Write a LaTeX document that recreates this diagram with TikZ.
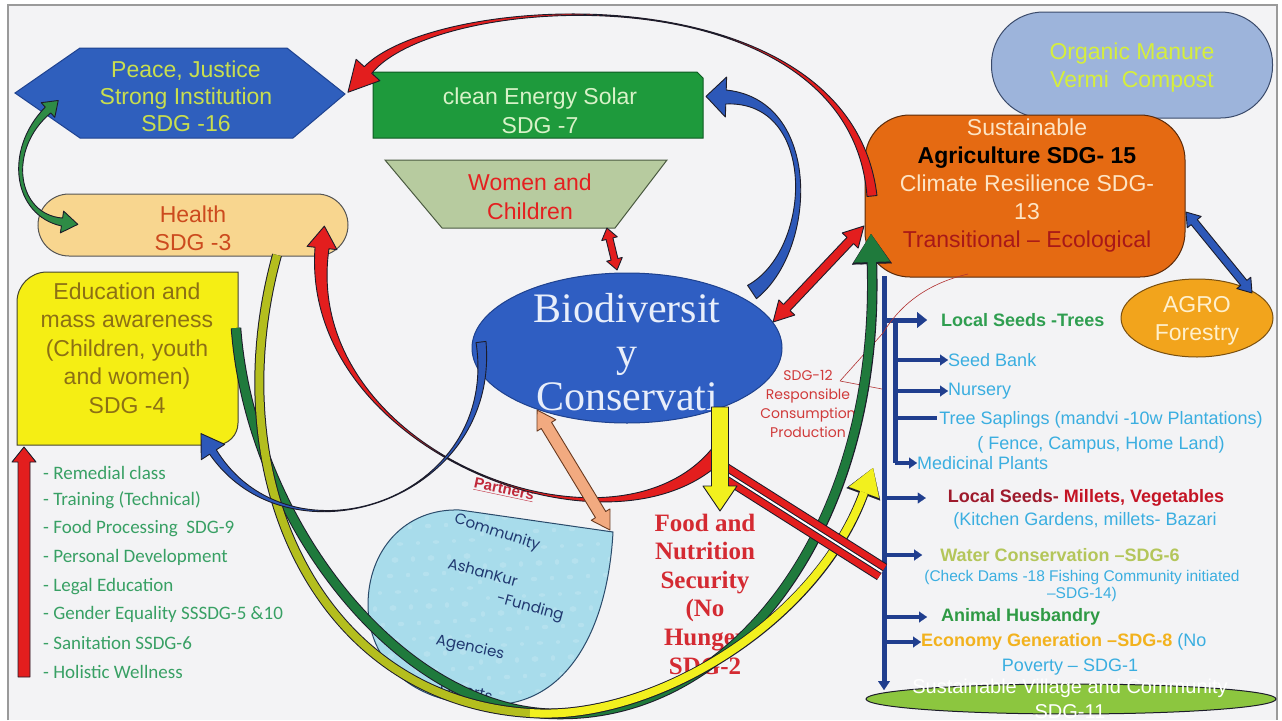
\documentclass[tikz,border=0pt]{standalone}
\usepackage{fontspec}
\setmainfont{Liberation Sans}
\newfontfamily\serifface{Liberation Serif}
\newfontfamily\calface{Carlito}
\newfontfamily\geoface{Poppins}
\usetikzlibrary{calc,shapes.geometric,arrows.meta}

\definecolor{bgc}{HTML}{F3F3F5}
\definecolor{framegray}{HTML}{9A9A9A}
\definecolor{outline}{HTML}{1C1C2A}
\definecolor{peaceblue}{HTML}{2F5FBD}
\definecolor{peaceedge}{HTML}{1E4290}
\definecolor{peacetext}{HTML}{C9DE4E}
\definecolor{energygreen}{HTML}{1E9A3C}
\definecolor{energyedge}{HTML}{0E5A22}
\definecolor{energytext}{HTML}{D8F2C8}
\definecolor{womenfill}{HTML}{B7CB9F}
\definecolor{womenedge}{HTML}{4A5A40}
\definecolor{womentext}{HTML}{E42020}
\definecolor{healthfill}{HTML}{F8D68F}
\definecolor{healthedge}{HTML}{555555}
\definecolor{healthtext}{HTML}{CC4A1E}
\definecolor{edufill}{HTML}{F5EE14}
\definecolor{eduedge}{HTML}{444430}
\definecolor{edutext}{HTML}{8C7014}
\definecolor{listgreen}{HTML}{38A064}
\definecolor{bioblue}{HTML}{2F5EC2}
\definecolor{bioedge}{HTML}{1E418E}
\definecolor{biotext}{HTML}{E8EEFA}
\definecolor{agrifill}{HTML}{E56A12}
\definecolor{agriedge}{HTML}{5A2A0A}
\definecolor{agricream}{HTML}{FDE4C4}
\definecolor{agrired}{HTML}{A81818}
\definecolor{organicfill}{HTML}{9DB4DB}
\definecolor{organicedge}{HTML}{3A4A6A}
\definecolor{organictext}{HTML}{D6EE3C}
\definecolor{agrofill}{HTML}{F2A41C}
\definecolor{agroedge}{HTML}{7A5010}
\definecolor{agrotext}{HTML}{FFF0CC}
\definecolor{villagefill}{HTML}{8CC63F}
\definecolor{dropfill}{HTML}{A8DCEB}
\definecolor{dropedge}{HTML}{2A4A6A}
\definecolor{droptext}{HTML}{203870}
\definecolor{foodred}{HTML}{D42A32}
\definecolor{sdgred}{HTML}{D03A3A}
\definecolor{partnerred}{HTML}{C0283A}
\definecolor{navy}{HTML}{203E8E}
\definecolor{skyblue}{HTML}{3AAEE0}
\definecolor{seedgreen}{HTML}{2F9E50}
\definecolor{milletred}{HTML}{9E1A2C}
\definecolor{milletredb}{HTML}{C41424}
\definecolor{waterolive}{HTML}{B4C65A}
\definecolor{husbandgreen}{HTML}{2E9A44}
\definecolor{ecoorange}{HTML}{F2B21E}
\definecolor{arrowred}{HTML}{E31E1E}
\definecolor{darkgreen}{HTML}{1F7A3C}
\definecolor{midgreen}{HTML}{2E8B45}
\definecolor{olive}{HTML}{B4BE1E}
\definecolor{brightyellow}{HTML}{F2F01E}
\definecolor{peach}{HTML}{F2AA80}
\definecolor{peachedge}{HTML}{6A3A20}
\definecolor{midblue}{HTML}{2D58B8}

% arrow head sizes for the next band: start length, start half width, end length, end half width
\newcommand{\setheads}[4]{\def\hdSL{#1}\def\hdSW{#2}\def\hdEL{#3}\def\hdEW{#4}}
% tapered band along a cubic curve, with arrow heads at its ends
% #1 style, #2 start, #3 #4 controls, #5 end, #6 start half width, #7 control half width, #8 end half width
\newcommand{\taperband}[8]{%
  \path ($(#2)!#6!90:(#3)$) coordinate (tA0)
        ($(#2)!#6!-90:(#3)$) coordinate (tB0)
        ($(#3)!#7!90:(#4)$) coordinate (tAC1)
        ($(#3)!#7!-90:(#4)$) coordinate (tBC1)
        ($(#4)!#7!-90:(#3)$) coordinate (tAC2)
        ($(#4)!#7!90:(#3)$) coordinate (tBC2)
        ($(#5)!#8!-90:(#4)$) coordinate (tA3)
        ($(#5)!#8!90:(#4)$) coordinate (tB3)
        ($(#5)!\hdEW!-90:(#4)$) coordinate (tEA)
        ($(#5)!\hdEW!90:(#4)$) coordinate (tEB)
        ($(#5)!-\hdEL!(#4)$) coordinate (tET)
        ($(#2)!\hdSW!90:(#3)$) coordinate (tSA)
        ($(#2)!\hdSW!-90:(#3)$) coordinate (tSB)
        ($(#2)!-\hdSL!(#3)$) coordinate (tST);
  \path[#1] (tA0) .. controls (tAC1) and (tAC2) .. (tA3) -- (tEA) -- (tET) -- (tEB) -- (tB3)
        .. controls (tBC2) and (tBC1) .. (tB0) -- (tSB) -- (tST) -- (tSA) -- cycle;}
% straight band of constant width between two named points
\newcommand{\straightband}[4]{%
  \path ($(#2)!0.333!(#3)$) coordinate (sC1) ($(#2)!0.667!(#3)$) coordinate (sC2);
  \taperband{#1}{#2}{sC1}{sC2}{#3}{#4}{#4}{#4}}

\begin{document}
\begin{tikzpicture}[x=1pt,y=-1pt,
  outl/.style={draw=outline,line width=0.9pt,line join=round},
  txt/.style={inner sep=0pt,align=center},
  bigtext/.style={font=\fontsize{23}{28}\selectfont},
  rtext/.style={inner sep=0pt,font=\fontsize{18}{25}\selectfont},
  rbold/.style={inner sep=0pt,font=\bfseries\fontsize{18}{25}\selectfont},
  lsttext/.style={anchor=west,inner sep=0pt,text=listgreen,font=\calface\fontsize{19}{22}\selectfont},
  droplabel/.style={inner sep=0pt,text=droptext,font=\geoface\fontsize{15}{17}\selectfont},
  trunkline/.style={navy,line width=5pt},
  twig/.style={navy,line width=3.5pt,-{Triangle[length=8pt,width=11pt,line width=0.1pt]}},
  bigtwig/.style={navy,line width=5pt,-{Triangle[length=10pt,width=16pt,line width=0.1pt]}},
  sdgline/.style={sdgred!85!black,line width=0.6pt},
]
\useasboundingbox (0,0) rectangle (1282,720);
\fill[white] (0,0) rectangle (1282,720);
\fill[bgc] (8,5) rectangle (1277,720);
\draw[framegray,line width=1.2pt] (8,720) -- (8,5) -- (1277,5) -- (1277,720);

% ---------- boxes ----------
\node[draw=organicedge,line width=1pt,fill=organicfill,rounded corners=52pt,
      minimum width=281pt,minimum height=106pt,inner sep=0pt] (organic) at (1132,65) {};
\node[txt,bigtext,text=organictext] (organictxt) at (1132,68) {Organic Manure\\Vermi\ \ Compost};

\node[ellipse,draw=agroedge,line width=1pt,fill=agrofill,minimum width=152pt,
      minimum height=78pt,inner sep=0pt] (agro) at (1197,318) {};
\node[txt,bigtext,text=agrotext] (agrotxt) at (1197,321) {AGRO\\Forestry};

\node[ellipse,draw=outline,line width=1pt,fill=villagefill,minimum width=410pt,
      minimum height=30pt,inner sep=0pt] (village) at (1071,699) {};

\draw[fill=peaceblue,draw=peaceedge,line width=1pt]
  (15,93) -- (80,48) -- (287,48) -- (345,94) -- (293,138) -- (80,138) -- cycle;
\node[txt,text=peacetext,font=\fontsize{23}{27}\selectfont] (peace) at (186,96)
  {Peace, Justice\\Strong Institution\\SDG -16};

\draw[fill=energygreen,draw=energyedge,line width=1pt]
  (373,72) -- (697,72) -- (703,78) -- (703,138) -- (373,138) -- cycle;
\node[txt,text=energytext,font=\fontsize{23}{29}\selectfont] (energy) at (540,111)
  {clean Energy Solar\\SDG -7};

\draw[fill=womenfill,draw=womenedge,line width=1pt]
  (385,160) -- (667,160) -- (615,228) -- (442,228) -- cycle;
\node[txt,text=womentext,font=\fontsize{23}{29}\selectfont] (women) at (530,197)
  {Women and\\Children};

\node[rectangle,rounded corners=31pt,draw=healthedge,line width=1pt,fill=healthfill,
      minimum width=310pt,minimum height=62pt] (health) at (193,225) {};
\node[txt,bigtext,text=healthtext] (healthtxt) at (193,228) {Health\\SDG -3};

\draw[fill=edufill,draw=eduedge,line width=1pt]
  (17,445) -- (17,302) arc[start angle=180,end angle=90,radius=30pt] -- (238,272)
  -- (238,423) arc[start angle=0,end angle=-90,radius=22pt] -- cycle;
\node[txt,text=edutext,font=\fontsize{23}{28.5}\selectfont] (edu) at (127,348)
  {Education and\\mass awareness\\(Children, youth\\and women)\\SDG -4};

% partners drop, with its speckled surface
\path[save path=\dropoutline]
  (613,532) .. controls (608,625) and (570,705) .. (490,705)
  .. controls (410,705) and (368,660) .. (368,605)
  .. controls (368,550) and (405,508) .. (460,510) -- cycle;
\fill[dropfill,use path=\dropoutline];
\begin{scope}
  \clip[use path=\dropoutline];
  \foreach \px in {372,390,...,620}{
    \foreach \py in {508,524,...,708}{
      \pgfmathsetmacro{\dx}{mod(\py*7,13)}
      \pgfmathsetmacro{\dy}{mod(\px*3,11)}
      \pgfmathsetmacro{\rx}{2.2+mod(\px+\py,4)*0.6}
      \pgfmathsetmacro{\ry}{1.8+mod(\px+2*\py,3)*0.5}
      \fill[white,opacity=0.16] ({\px+\dx},{\py+\dy}) circle[x radius=\rx pt,y radius=\ry pt];
    }
  }
\end{scope}
\draw[dropedge,line width=1pt,use path=\dropoutline];
\node[droplabel,rotate=-18] (community) at (497,533) {Community};
\node[droplabel,rotate=-15] (ashankur) at (483,572) {AshanKur};
\node[droplabel,rotate=-15] (funding) at (530,608) {-Funding};
\node[droplabel,rotate=-12] (agencies) at (470,648) {Agencies};
\node[droplabel,rotate=-12] (experts) at (466,693) {Experts};
\node[inner sep=0pt,rotate=-12,text=partnerred,font=\bfseries\fontsize{15}{17}\selectfont]
  (partners) at (504,490) {\underline{Partners}};

% biodiversity
\node[ellipse,fill=bioblue,draw=bioedge,line width=1pt,minimum width=310pt,
      minimum height=150pt,inner sep=0pt] (bio) at (627,348) {};
\node[txt,text=biotext,font=\serifface\fontsize{42}{44}\selectfont] (biotxt) at (627,352)
  {Biodiversit\\y\\Conservati};

% agriculture
\node[rectangle,rounded corners=45pt,fill=agrifill,draw=agriedge,line width=1pt,
      minimum width=320pt,minimum height=162pt] (agri) at (1025,196) {};
\node[txt,font=\fontsize{23}{28}\selectfont] (agritxt) at (1027,186)
  {\textcolor{agricream}{Sustainable}\\\textbf{Agriculture SDG- 15}\\
   \textcolor{agricream}{Climate Resilience SDG-}\\\textcolor{agricream}{13}\\
   \textcolor{agrired}{Transitional – Ecological}};

% ---------- texts ----------
\node[txt,text=foodred,font=\serifface\bfseries\fontsize{25}{28.6}\selectfont] (food) at (705,594)
  {Food and\\Nutrition\\Security\\(No\\Hunger\\SDG-2};
\node[txt,text=sdgred,font=\geoface\fontsize{14}{19}\selectfont] (sdg12) at (808,404)
  {SDG-12\\Responsible\\Consumption\\Production};

\node[lsttext] (l1) at (43,473) {- Remedial class};
\node[lsttext] (l2) at (43,500) {- Training (Technical)};
\node[lsttext] (l3) at (43,529) {- Food Processing\ \ SDG-9};
\node[lsttext] (l4) at (43,557) {- Personal Development};
\node[lsttext] (l5) at (43,587) {- Legal Education};
\node[lsttext] (l6) at (43,614) {- Gender Equality SSSDG-5 \&10};
\node[lsttext] (l7) at (43,643) {- Sanitation SSDG-6};
\node[lsttext] (l8) at (43,672) {- Holistic Wellness};

\node[rbold,anchor=west,text=seedgreen] (t1) at (941,320) {Local Seeds -Trees};
\node[rtext,anchor=west,text=skyblue] (t2) at (948,360) {Seed Bank};
\node[rtext,anchor=west,text=skyblue] (t3) at (948,391) {Nursery};
\node[rtext,align=center,text=skyblue] (t4) at (1101,432)
  {Tree Saplings (mandvi -10w Plantations)\\( Fence, Campus, Home Land)};
\node[rtext,anchor=west,text=skyblue] (t5) at (917,463) {Medicinal Plants};
\node[rbold] (t6) at (1086,498) {\textcolor{milletred}{Local Seeds-} \textcolor{milletredb}{Millets, Vegetables}};
\node[rtext,text=skyblue] (t7) at (1085,521) {(Kitchen Gardens, millets- Bazari};
\node[rbold,text=waterolive] (t8) at (1060,555) {Water Conservation –SDG-6};
\node[inner sep=0pt,align=center,text=skyblue,font=\fontsize{15.5}{17}\selectfont] (t9) at (1082,586)
  {(Check Dams -18 Fishing Community initiated\\–SDG-14)};
\node[rbold,anchor=west,text=husbandgreen] (t10) at (941,617) {Animal Husbandry};
\node[rtext,anchor=west] (t11) at (921,642)
  {\textbf{\textcolor{ecoorange}{Economy Generation –SDG-8}}\ \textcolor{skyblue}{(No}};
\node[rtext,text=skyblue] (t12) at (1070,667) {Poverty – SDG-1};

% ---------- trunk of the practices list ----------
\coordinate (trunkTop) at (884,276);
\coordinate (trunkEnd) at (884,690);
\coordinate (innerTop) at (895,318);
\coordinate (innerEnd) at (895,463);
\draw[trunkline,-{Triangle[length=9pt,width=12pt,line width=0.1pt]}] (trunkTop) -- (trunkEnd);
\draw[trunkline] (innerTop) -- (innerEnd);
\draw[bigtwig] (t1.west -| trunkTop) -- ([xshift=-14pt]t1.west);
\draw[twig] (t2.west -| innerTop) -- (t2.west);
\draw[twig] (t3.west -| innerTop) -- (t3.west);
\draw[navy,line width=3.5pt] (innerTop |- 0,418) -- (937,418);
\draw[twig] (t5.west -| innerTop) -- (t5.west);
\draw[twig,line width=4.5pt] (t6.west -| trunkTop) -- ([xshift=-22pt]t6.west);
\draw[twig,line width=4.5pt] (t8.west -| trunkTop) -- ([xshift=-18pt]t8.west);
\draw[twig,line width=4.5pt] (t10.west -| trunkTop) -- ([xshift=-14pt]t10.west);
\draw[twig,line width=4.5pt] (t11.west -| trunkTop) -- (t11.west);

% SDG-12 call-out lines
\coordinate (sdgHook) at (840,381);
\draw[sdgline] (sdgHook) -- (883,333) .. controls (902,302) and (930,283) .. (968,274);
\draw[sdgline] (sdgHook) -- (882,389);

% ---------- connectors ----------
\coordinate (agriArc) at (872,196);
\coordinate (peaceArc) at (368,70);
\coordinate (bioNE) at (752,292);
\coordinate (energyE) at (726,97);
\coordinate (peaceSW) at (48,110);
\coordinate (healthW) at (62,222);
\coordinate (foodArc) at (717,455);
\coordinate (healthS) at (322,248);
\coordinate (bioW) at (481,342);
\coordinate (eduSE) at (213,452);
\coordinate (womenS) at (609.5,238.7);
\coordinate (bioN) at (614.5,259.3);
\coordinate (bioE) at (786.8,307.5);
\coordinate (agriW) at (850.2,240.5);
\coordinate (dropTip) at (600.6,514.6);
\coordinate (bioS) at (546.4,425.4);
\coordinate (bioBot) at (720,407);
\coordinate (foodTop) at (720,486);
\coordinate (listFoot) at (24,677);
\coordinate (eduBL) at (24,462);
\coordinate (agriSE) at (1194.2,222.1);
\coordinate (agroNW) at (1243.8,282.9);
\coordinate (eduE) at (236,328);
\coordinate (bandLow) at (560,714);
\coordinate (agriSW) at (871,234);
\coordinate (healthB) at (277,255);
\coordinate (yellowLow) at (530,713);
\coordinate (trunkYellow) at (873,468);
\coordinate (pipeA) at (724,472);
\coordinate (pipeB) at (882,572);

% long arc from agriculture over the top to peace
\setheads{0pt}{0pt}{30pt}{16pt}
\taperband{fill=arrowred,outl}{agriArc}{850,-30}{440,-10}{peaceArc}{5pt}{0pt}{5pt}

% biodiversity to clean energy
\setheads{0pt}{0pt}{20pt}{20pt}
\taperband{fill=midblue,outl}{bioNE}{815,250}{820,100}{energyE}{8pt}{2.5pt}{7pt}

% peace <-> health
\setheads{14pt}{10pt}{16pt}{11pt}
\taperband{fill=midgreen,outl}{peaceSW}{5,150}{15,215}{healthW}{4pt}{2pt}{4pt}

% long green band: education to agriculture
\draw[outline,line width=10.5pt,-{Triangle[length=30pt,width=40pt,line width=0.1pt]}]
  (eduE) .. controls (250,520) and (400,715) .. (bandLow) .. controls (740,715) and (880,520) .. (agriSW);
\draw[darkgreen,line width=8.5pt,-{Triangle[length=28pt,width=36pt,line width=0.1pt]}]
  (eduE) .. controls (250,520) and (400,715) .. (bandLow) .. controls (740,715) and (880,520) .. (agriSW);

% long olive / yellow band: health to the practices list
\draw[outline,line width=10pt,-{Triangle[length=28pt,width=36pt,line width=0.1pt]}]
  (healthB) .. controls (215,480) and (320,700) .. (yellowLow) .. controls (650,722) and (815,625) .. (trunkYellow);
\draw[olive,line width=8pt] (healthB) .. controls (215,480) and (320,700) .. (yellowLow);
\draw[brightyellow,line width=8pt,-{Triangle[length=26pt,width=32pt,line width=0.1pt]}]
  (yellowLow) .. controls (650,722) and (815,625) .. (trunkYellow);

% food security back to health
\setheads{0pt}{0pt}{22pt}{15pt}
\taperband{fill=arrowred,outl}{foodArc}{610,570}{300,450}{healthS}{8pt}{0pt}{7pt}

% biodiversity to education
\setheads{0pt}{0pt}{22pt}{14pt}
\taperband{fill=midblue,outl}{bioW}{500,500}{290,570}{eduSE}{5pt}{0pt}{4pt}

% red pipe towards water conservation
\draw[outline,line width=19pt] (pipeA) -- (pipeB);
\draw[arrowred,line width=17pt] (pipeA) -- (pipeB);
\draw[outline,line width=4pt] (pipeA) -- (pipeB);
\draw[white,line width=2pt] (pipeA) -- (pipeB);

% straight arrows
\setheads{0pt}{0pt}{25pt}{17pt}
\straightband{fill=brightyellow,outl}{bioBot}{foodTop}{8.5pt}
\setheads{11pt}{8pt}{11pt}{8pt}
\straightband{fill=arrowred,outl}{womenS}{bioN}{3.5pt}
\setheads{20pt}{11pt}{20pt}{11pt}
\straightband{fill=arrowred,outl}{bioE}{agriW}{4.5pt}
\setheads{18pt}{11pt}{18pt}{11pt}
\straightband{fill=peach,draw=peachedge,line width=0.9pt,line join=round}{dropTip}{bioS}{6pt}
\setheads{0pt}{0pt}{15pt}{12pt}
\straightband{fill=arrowred,outl}{listFoot}{eduBL}{6pt}
\setheads{13pt}{9pt}{13pt}{9pt}
\straightband{fill=midblue,outl}{agriSE}{agroNW}{4pt}

% village label on top
\node[txt,text=white,font=\fontsize{20}{25}\selectfont] (villagetxt) at (1070,699)
  {Sustainable Village and Community\\SDG-11};
\end{tikzpicture}
\end{document}
